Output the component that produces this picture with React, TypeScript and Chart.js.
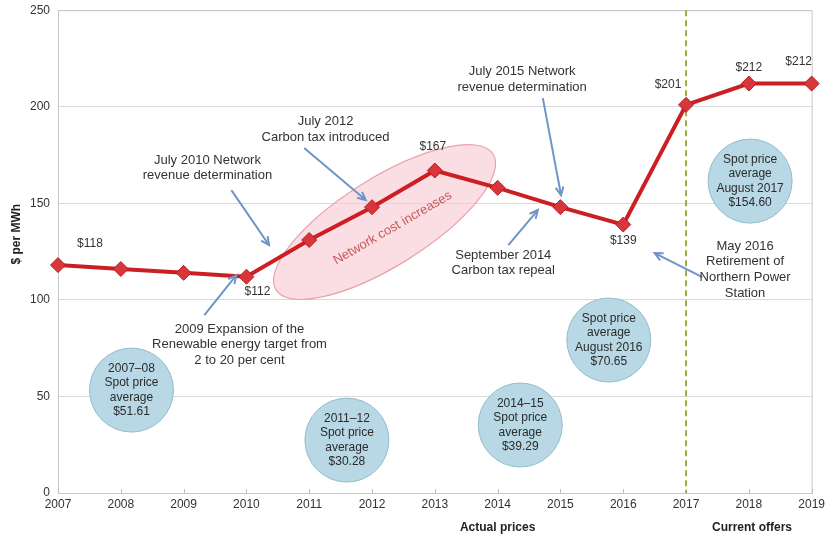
import React, { useEffect, useRef } from 'react';
import { Chart, registerables } from 'chart.js';
Chart.register(...registerables);

// ---- data ----
const years = [2007, 2008, 2009, 2010, 2011, 2012, 2013, 2014, 2015, 2016, 2017, 2018, 2019];
const prices = [118, 116, 114, 112, 131, 148, 167, 158, 148, 139, 201, 212, 212];
const priceLabels = ['$118', '', '', '$112', '', '', '$167', '', '', '$139', '$201', '$212', '$212'];
const yTickValues = [0, 50, 100, 150, 200, 250];
const dividerYear = 2017;

// events: text lines, anchor (year, value), arrow from -> to (year, value)
const eventTexts = [
  ['July 2010 Network', 'revenue determination'],
  ['July 2012', 'Carbon tax introduced'],
  ['July 2015 Network', 'revenue determination'],
  ['September 2014', 'Carbon tax repeal'],
  ['May 2016', 'Retirement of', 'Northern Power', 'Station'],
  ['2009 Expansion of the', 'Renewable energy target from', '2 to 20 per cent'],
];
const eventAnchors = [
  [2009.38, 172.4], [2011.26, 192.5], [2014.39, 218.4], [2014.09, 123.2], [2017.94, 127.8], [2009.89, 84.9],
];
const eventArrows = [
  [2009.76, 156.8, 2010.36, 128.4],
  [2010.92, 178.6, 2011.9, 151.7],
  [2014.72, 204.5, 2015.01, 154.2],
  [2014.17, 128.4, 2014.64, 146.5],
  [2017.26, 111.8, 2016.5, 124.2],
  [2009.33, 92.1, 2009.84, 112.8],
];

const bubbleTexts = [
  ['2007–08', 'Spot price', 'average', '$51.61'],
  ['2011–12', 'Spot price', 'average', '$30.28'],
  ['2014–15', 'Spot price', 'average', '$39.29'],
  ['Spot price', 'average', 'August 2016', '$70.65'],
  ['Spot price', 'average', 'August 2017', '$154.60'],
];
const bubbleCenters = [[2008.17, 53.3], [2011.6, 27.4], [2014.36, 35.2], [2015.77, 79.2], [2018.02, 161.5]];

const ellipseLabel = 'Network cost increases';
const ellipseCenter = [2012.2, 140.3];

const footerLabels = ['Actual prices', 'Current offers'];
const footerYears = [2014.0, 2018.05];
const yTitle = '$ per MWh';

// label offsets (px) relative to points
const labelOffsets = [[32, -21], [0, 0], [0, 0], [11, 15], [0, 0], [0, 0], [-2, -24], [0, 0], [0, 0], [0, 16], [-18, -20], [0, -16], [-13, -22]];

const FONT = '"Liberation Sans", Arial, sans-serif';

function drawArrow(ctx, x1, y1, x2, y2) {
  ctx.beginPath();
  ctx.moveTo(x1, y1);
  ctx.lineTo(x2, y2);
  ctx.stroke();
  const a = Math.atan2(y2 - y1, x2 - x1);
  const h = 9;
  ctx.beginPath();
  ctx.moveTo(x2 - h * Math.cos(a - 0.45), y2 - h * Math.sin(a - 0.45));
  ctx.lineTo(x2, y2);
  ctx.lineTo(x2 - h * Math.cos(a + 0.45), y2 - h * Math.sin(a + 0.45));
  ctx.stroke();
}

const annotationPlugin = {
  id: 'annotations',
  beforeDatasetsDraw(chart) {
    const { ctx, chartArea: ca, scales } = chart;
    const xs = scales.x, ys = scales.y;
    ctx.save();
    // frame
    ctx.strokeStyle = '#c8c8c8';
    ctx.lineWidth = 1;
    ctx.strokeRect(ca.left + 0.5, ca.top + 0.5, ca.right - ca.left, ca.bottom - ca.top);
    // tick marks
    ctx.strokeStyle = '#bdbdbd';
    years.forEach((yr) => {
      const px = Math.round(xs.getPixelForValue(yr)) + 0.5;
      ctx.beginPath();
      ctx.moveTo(px, ca.bottom);
      ctx.lineTo(px, ca.bottom - 4);
      ctx.stroke();
    });
    // ellipse
    const ex = xs.getPixelForValue(ellipseCenter[0]);
    const ey = ys.getPixelForValue(ellipseCenter[1]);
    ctx.beginPath();
    ctx.ellipse(ex, ey, 128, 44, (-32 * Math.PI) / 180, 0, Math.PI * 2);
    ctx.fillStyle = 'rgba(246, 200, 208, 0.6)';
    ctx.fill();
    ctx.strokeStyle = '#e8a3ae';
    ctx.lineWidth = 1.2;
    ctx.stroke();
    ctx.save();
    ctx.translate(ex + 8, ey + 6);
    ctx.rotate((-30 * Math.PI) / 180);
    ctx.fillStyle = '#c45a5c';
    ctx.font = '13px ' + FONT;
    ctx.textAlign = 'center';
    ctx.textBaseline = 'middle';
    ctx.fillText(ellipseLabel, 0, 0);
    ctx.restore();
    // divider
    const dx = xs.getPixelForValue(dividerYear);
    ctx.strokeStyle = '#9aad3a';
    ctx.lineWidth = 2;
    ctx.setLineDash([6, 4]);
    ctx.beginPath();
    ctx.moveTo(dx, ca.top);
    ctx.lineTo(dx, ca.bottom);
    ctx.stroke();
    ctx.restore();
  },
  afterDatasetsDraw(chart) {
    const { ctx, chartArea: ca, scales } = chart;
    const xs = scales.x, ys = scales.y;
    ctx.save();
    ctx.textAlign = 'center';
    ctx.textBaseline = 'middle';
    // arrows
    ctx.strokeStyle = '#6f95c6';
    ctx.lineWidth = 2;
    eventArrows.forEach((a) => {
      drawArrow(ctx, xs.getPixelForValue(a[0]), ys.getPixelForValue(a[1]), xs.getPixelForValue(a[2]), ys.getPixelForValue(a[3]));
    });
    // event texts
    ctx.fillStyle = '#333';
    ctx.font = '13px ' + FONT;
    eventTexts.forEach((lines, i) => {
      const px = xs.getPixelForValue(eventAnchors[i][0]);
      const py = ys.getPixelForValue(eventAnchors[i][1]);
      lines.forEach((l, j) => ctx.fillText(l, px, py + j * 15.7));
    });
    // bubbles
    ctx.font = '12px ' + FONT;
    bubbleTexts.forEach((lines, i) => {
      const px = xs.getPixelForValue(bubbleCenters[i][0]);
      const py = ys.getPixelForValue(bubbleCenters[i][1]);
      ctx.beginPath();
      ctx.arc(px, py, 42, 0, Math.PI * 2);
      ctx.fillStyle = '#b7d8e4';
      ctx.fill();
      ctx.strokeStyle = '#93bccb';
      ctx.lineWidth = 1;
      ctx.stroke();
      ctx.fillStyle = '#2b2b2b';
      lines.forEach((l, j) => ctx.fillText(l, px, py + (j - 1.5) * 14.5));
    });
    // data labels
    ctx.fillStyle = '#333';
    priceLabels.forEach((lab, i) => {
      if (!lab) return;
      const px = xs.getPixelForValue(years[i]) + labelOffsets[i][0];
      const py = ys.getPixelForValue(prices[i]) + labelOffsets[i][1];
      ctx.fillText(lab, px, py);
    });
    // footer labels
    ctx.font = 'bold 12px ' + FONT;
    ctx.fillStyle = '#222';
    footerLabels.forEach((l, i) => ctx.fillText(l, xs.getPixelForValue(footerYears[i]), ca.bottom + 35));
    // y title
    ctx.save();
    ctx.translate(17, ys.getPixelForValue(134));
    ctx.rotate(-Math.PI / 2);
    ctx.fillText(yTitle, 0, 0);
    ctx.restore();
    ctx.restore();
  },
};

export default function App() {
  const ref = useRef<HTMLCanvasElement>(null);
  useEffect(() => {
    document.body.style.margin = '0';
    const chart = new Chart(ref.current!, {
      type: 'line',
      data: {
        datasets: [
          {
            data: years.map((y, i) => ({ x: y, y: prices[i] })),
            borderColor: '#cc1f24',
            borderWidth: 4,
            pointStyle: 'rectRot',
            pointRadius: 7.5,
            pointBackgroundColor: '#d8363a',
            pointBorderColor: '#b81c20',
            pointBorderWidth: 1,
            tension: 0,
            clip: false,
          },
        ],
      },
      options: {
        animation: false,
        responsive: false,
        layout: { padding: { top: 4, right: 14, left: 0, bottom: 0 } },
        plugins: { legend: { display: false }, tooltip: { enabled: false } },
        scales: {
          x: {
            type: 'linear',
            min: 2007,
            max: 2019,
            afterBuildTicks: (s) => { s.ticks = years.map((v) => ({ value: v })); },
            afterFit: (s) => { s.height = 45; },
            grid: { display: false, drawTicks: false },
            border: { display: true, color: '#bdbdbd' },
            ticks: { padding: 4, color: '#333', font: { family: FONT, size: 12 }, callback: (v) => String(v), maxRotation: 0 },
          },
          y: {
            min: 0,
            max: 250,
            afterBuildTicks: (s) => { s.ticks = yTickValues.map((v) => ({ value: v })); },
            afterFit: (s) => { s.width = 58; },
            grid: { color: '#dadada', drawTicks: true, tickLength: 5, tickColor: 'rgba(0,0,0,0)' },
            border: { display: true, color: '#bdbdbd' },
            ticks: { padding: 3, color: '#333', font: { family: FONT, size: 12 } },
          },
        },
      },
      plugins: [annotationPlugin],
    });
    return () => chart.destroy();
  }, []);
  return (
    <div style={{ width: 829, height: 538 }}>
      <canvas ref={ref} width={829} height={538} style={{ display: 'block' }} />
    </div>
  );
}
